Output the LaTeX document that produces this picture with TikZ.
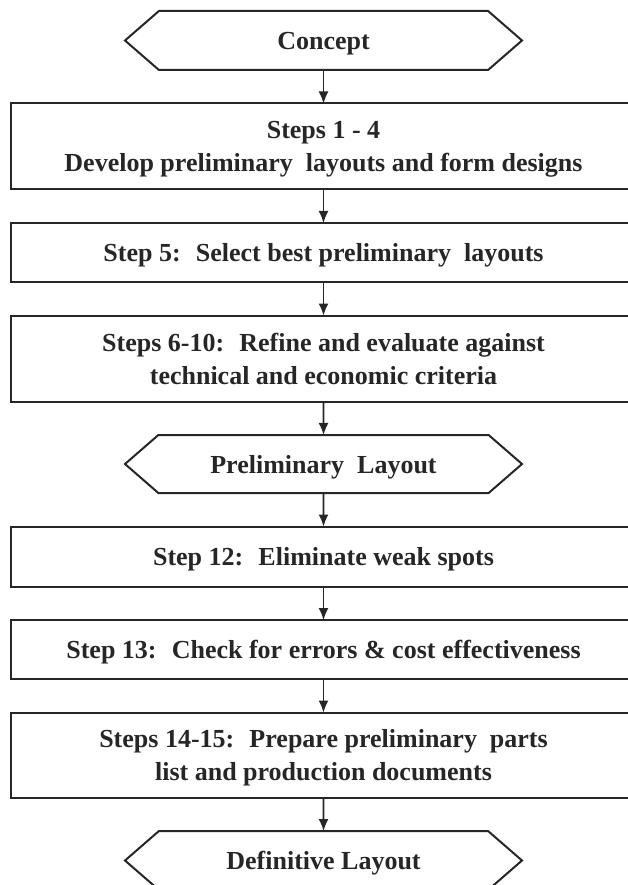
\documentclass[tikz,border=0pt]{standalone}
\usepackage{fontspec}
\setmainfont{Liberation Serif}
\usetikzlibrary{positioning,shapes.symbols,arrows.meta}
\definecolor{inkgray}{HTML}{262626}
\begin{document}
\begin{tikzpicture}[
    x=1pt, y=1pt,
    node distance=33.5pt,
    every node/.style={text=inkgray, font=\fontsize{26}{33}\selectfont\bfseries, align=center, text depth=0pt},
    stepbox/.style={draw=inkgray, line width=2pt, outer sep=0pt, minimum width=625pt, minimum height=59pt, inner sep=0pt},
    tallbox/.style={stepbox, minimum height=86pt},
    milestone/.style={draw=inkgray, line width=2pt, outer sep=0pt, shape=signal, signal to=west and east,
        signal pointer angle=82, minimum width=397pt, minimum height=59pt, inner sep=0pt},
    arr/.style={draw=inkgray, line width=1.6pt, -{Latex[length=12pt,width=10pt]}}
]
\useasboundingbox (0,0) rectangle (628,-885);
\node[milestone] (concept) at (323.5,-40.5) {Concept};
\node[tallbox, below=of concept] (s1) {Steps 1 - 4\\Develop preliminary~ layouts and form designs};
\node[stepbox, below=of s1] (s5) {Step 5:~ Select best preliminary~ layouts};
\node[tallbox, below=of s5] (s6) {Steps 6-10:~ Refine and evaluate against\\technical and economic criteria};
\node[milestone, below=of s6, minimum height=58pt] (prelim) {Preliminary~ Layout};
\node[stepbox, below=of prelim, minimum height=60pt] (s12) {Step 12:~ Eliminate weak spots};
\node[stepbox, below=of s12] (s13) {Step 13:~ Check for errors \& cost effectiveness};
\node[tallbox, below=of s13, minimum height=85pt] (s14) {Steps 14-15:~ Prepare preliminary~ parts\\list and production documents};
\node[milestone, below=of s14] (final) {Definitive Layout};
\foreach \a/\b in {concept/s1, s1/s5, s5/s6, s6/prelim, prelim/s12, s12/s13, s13/s14, s14/final}
    \draw[arr] (\a) -- (\b);
\end{tikzpicture}
\end{document}
